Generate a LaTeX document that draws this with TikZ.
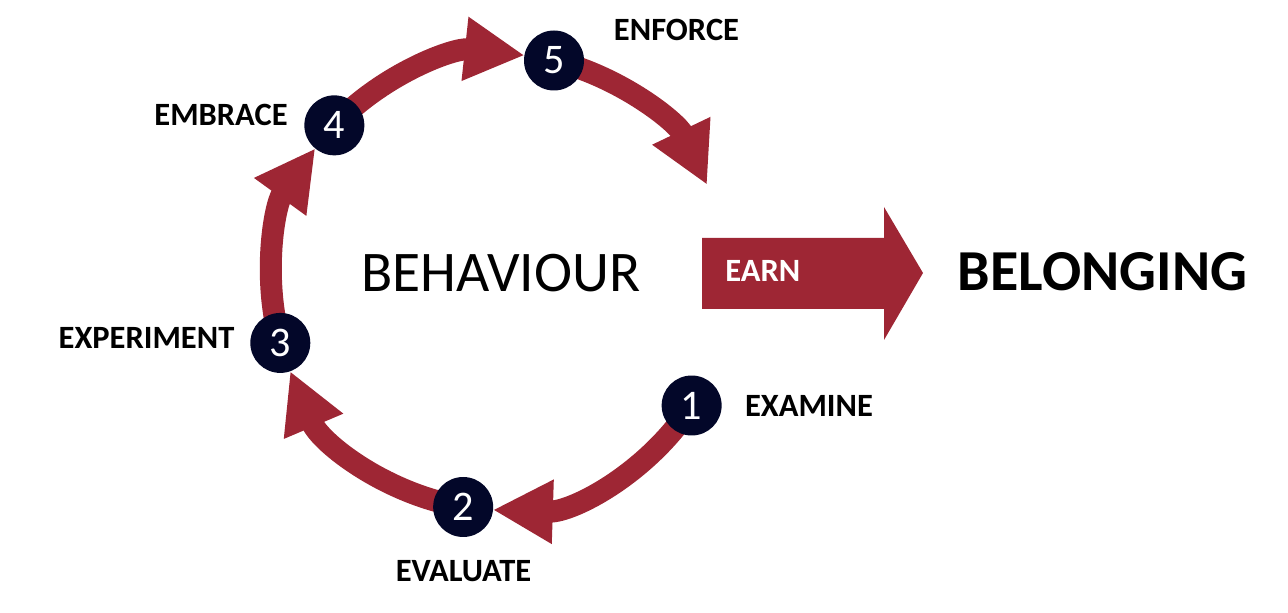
\documentclass[tikz,border=0pt]{standalone}
\usepackage{fontspec}
\setmainfont{Carlito}
\usepackage{tikz}
\usetikzlibrary{arrows.meta,backgrounds}
\definecolor{ringred}{HTML}{9E2634}
\definecolor{dotblue}{HTML}{030729}
\tikzset{
  stepdot/.style={circle, fill=dotblue, minimum size=1.2cm, inner sep=0pt, text=white, font=\fontsize{24}{24}\selectfont},
  steplbl/.style={inner sep=0pt, font=\fontsize{18.5}{20}\selectfont\bfseries},
  ring/.style={ringred, line width=0.44cm, -{Triangle[length=1.2cm, width=1.2cm]}},
  >=Stealth
}

\begin{document}
\begin{tikzpicture}[x=0.02cm, y=0.02cm]
  \useasboundingbox (0,0) rectangle (1288,612);
  \coordinate (ctr) at (500,330);
  % the five steps
  \node[stepdot] (n1) at ([shift={(-32.8:228)}]ctr) {1};
  \node[stepdot] (n2) at ([shift={(-99.3:228)}]ctr) {2};
  \node[stepdot] (n3) at ([shift={(195.5:228)}]ctr) {3};
  \node[stepdot] (n4) at ([shift={(136.6:228)}]ctr) {4};
  \node[stepdot] (n5) at ([shift={(76.3:228)}]ctr) {5};
  \node[steplbl] (l1) at (809,206) {EXAMINE};
  \node[steplbl] (l2) at (463.5,41) {EVALUATE};
  \node[steplbl] (l3) at (146.5,274.5) {EXPERIMENT};
  \node[steplbl] (l4) at (221,497) {EMBRACE};
  \node[steplbl] (l5) at (676.5,582.5) {ENFORCE};
  \node[inner sep=0pt, font=\fontsize{32.7}{34}\selectfont] (beh) at (501,338.5) {BEHAVIOUR};
  % cycle
  \begin{scope}[on background layer]
    \draw[ring] (n1.center) arc[start angle=-32.8, end angle=-91.8, radius=228];
    \draw[ring] (n2.center) arc[start angle=-99.3, end angle=-157, radius=228];
    \draw[ring] (n3.center) arc[start angle=195.5, end angle=144.1, radius=228];
    \draw[ring] (n4.center) arc[start angle=136.6, end angle=83.8, radius=228];
    \draw[ring] (n5.center) arc[start angle=76.3, end angle=25.5, radius=230] coordinate (out);
  \end{scope}
  % earn arrow
  \fill[ringred] (702,303) -- (884,303) -- (884,272) -- (923,339) -- (884,405) -- (884,374) -- (702,374) -- cycle;
  \node[steplbl, text=white, anchor=west] (earn) at (725,341) {EARN};
  \node[inner sep=0pt, font=\fontsize{33}{35}\selectfont\bfseries] (bel) at (1102.5,340) {BELONGING};
\end{tikzpicture}
\end{document}
